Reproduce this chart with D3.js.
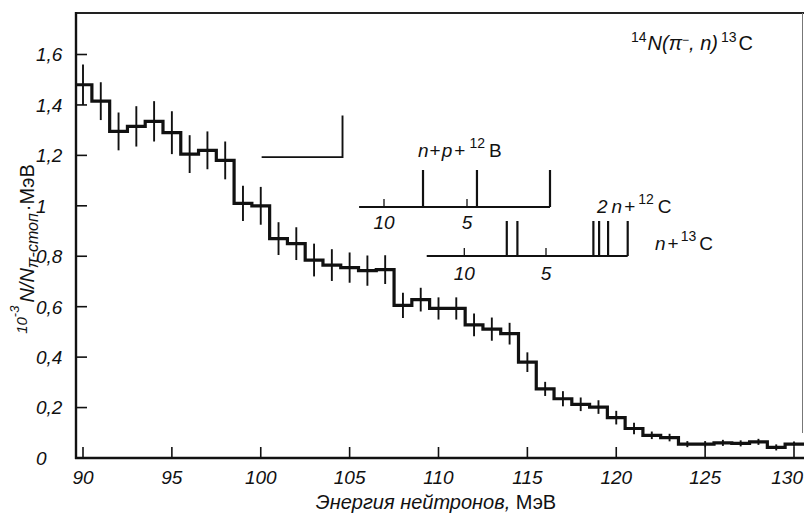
<!DOCTYPE html>
<html><head><meta charset="utf-8">
<script src="https://cdn.jsdelivr.net/npm/d3@7"></script>
<style>
html,body{margin:0;padding:0;background:#fff;}
svg{display:block;}
text{font-family:"Liberation Sans",Arial,sans-serif;fill:#111;}
</style></head>
<body>
<script>
// ---- data ----
const binCenters = [90,91,92,93,94,95,96,97,98,99,100,101,102,103,104,105,106,107,108,109,110,111,112,113,114,115,116,117,118,119,120,121,122,123,124,125,126,127,128,129,130];
const counts = [1.48,1.415,1.295,1.315,1.335,1.29,1.205,1.22,1.18,1.01,1.0,0.87,0.85,0.785,0.765,0.755,0.743,0.747,0.605,0.628,0.593,0.593,0.528,0.511,0.493,0.38,0.274,0.235,0.213,0.202,0.16,0.117,0.09,0.081,0.055,0.055,0.06,0.058,0.064,0.042,0.055];
const errors = [0.08,0.075,0.075,0.08,0.08,0.085,0.075,0.075,0.075,0.07,0.075,0.065,0.065,0.065,0.063,0.06,0.06,0.057,0.05,0.047,0.044,0.044,0.045,0.046,0.043,0.039,0.028,0.03,0.027,0.027,0.027,0.023,0.015,0.015,0.012,0.012,0.012,0.012,0.012,0.012,0.01];
const xTicks = [90,95,100,105,110,115,120,125,130];
const yTicks = [0,0.2,0.4,0.6,0.8,1,1.2,1.4,1.6];
const yTickLabels = ["0","0,2","0,4","0,6","0,8","1","1,2","1,4","1,6"];
// resolution marker (MeV, value)
const resolutionX = [100.05, 104.6];
const resolutionY = [1.193, 1.358];
// threshold spectra (excitation energies, MeV)
const spec1Lines = [7.65, 4.4, 0];
const spec2Lines = [7.4, 6.75, 2.1, 1.75, 1.2, 0];
const specTicks = [10, 5];
const spec1Range = [11.5, 0];
const spec2Range = [12.3, 0];

// ---- layout ----
const W = 804, H = 513;
const svg = d3.select("body").append("svg").attr("width", W).attr("height", H);
const x = d3.scaleLinear().domain([90,130]).range([83,794]);
const y = d3.scaleLinear().domain([0,1.6]).range([458,54.5]);
const axL = 76, axR = 804, axB = 458, axT = 13;

// frame
svg.append("line").attr("x1",axL-1).attr("x2",axR).attr("y1",axT).attr("y2",axT).attr("stroke","#222").attr("stroke-width",2);
svg.append("line").attr("x1",802.5).attr("x2",802.5).attr("y1",axT).attr("y2",433).attr("stroke","#777").attr("stroke-width",1);
svg.append("line").attr("x1",axL).attr("x2",axL).attr("y1",axT-1).attr("y2",axB+1).attr("stroke","#111").attr("stroke-width",2.4);
svg.append("line").attr("x1",axL-1).attr("x2",axR).attr("y1",axB).attr("y2",axB).attr("stroke","#111").attr("stroke-width",2.4);

// y ticks
yTicks.forEach((t,i)=>{
  svg.append("line").attr("x1",axL).attr("x2",axL+11).attr("y1",y(t)).attr("y2",y(t)).attr("stroke","#111").attr("stroke-width",1.6);
  svg.append("text").attr("x",36).attr("y",y(t)).attr("dy","0.36em")
    .attr("font-size",19).attr("font-style","italic").text(yTickLabels[i]);
});
// x ticks
xTicks.forEach((t,i)=>{
  svg.append("line").attr("x1",x(t)).attr("x2",x(t)).attr("y1",axB).attr("y2",axB-11).attr("stroke","#111").attr("stroke-width",1.6);
  const last = i===xTicks.length-1;
  svg.append("text").attr("x",last ? 803 : x(t)).attr("y",484).attr("text-anchor",last ? "end" : "middle")
    .attr("font-size",19).attr("font-style","italic").text(t);
});

// histogram
const xMin = x.invert(axL+1), xMax = x.invert(axR);
const pts = binCenters.map((c,i)=>[i===0? xMin : c-0.5, counts[i]]);
pts.push([xMax, counts[counts.length-1]]);
const line = d3.line().x(d=>x(d[0])).y(d=>y(d[1])).curve(d3.curveStepAfter);
svg.append("path").attr("d",line(pts)).attr("fill","none").attr("stroke","#111").attr("stroke-width",3.2).attr("stroke-linejoin","miter");
// error bars
binCenters.forEach((c,i)=>{
  svg.append("line").attr("x1",x(c)).attr("x2",x(c)).attr("y1",y(counts[i]-errors[i])).attr("y2",y(counts[i]+errors[i]))
    .attr("stroke","#111").attr("stroke-width",1.9);
});

// resolution marker
svg.append("path").attr("d",d3.line()([[x(resolutionX[0]),y(resolutionY[0])],[x(resolutionX[1]),y(resolutionY[0])],[x(resolutionX[1]),y(resolutionY[1])]]))
  .attr("fill","none").attr("stroke","#111").attr("stroke-width",1.9);

// threshold spectra
function spectrum(lines, range, scaleRange, yBase, yTop, labelY){
  const s = d3.scaleLinear().domain([10,0]).range(scaleRange);
  const g = svg.append("g");
  g.append("line").attr("x1",s(range[0])).attr("x2",s(range[1])).attr("y1",yBase).attr("y2",yBase).attr("stroke","#111").attr("stroke-width",2);
  specTicks.forEach(t=>{
    g.append("line").attr("x1",s(t)).attr("x2",s(t)).attr("y1",yBase).attr("y2",yBase-8).attr("stroke","#111").attr("stroke-width",1.3);
    g.append("text").attr("x",s(t)).attr("y",labelY).attr("text-anchor","middle").attr("font-size",19).attr("font-style","italic").text(t);
  });
  lines.forEach(e=>{
    g.append("line").attr("x1",s(e)).attr("x2",s(e)).attr("y1",yBase).attr("y2",yTop).attr("stroke","#111").attr("stroke-width",2.2);
  });
}
spectrum(spec1Lines, spec1Range, [384,550], 207, 170, 229);
spectrum(spec2Lines, spec2Range, [464.3,627.7], 256, 221, 280);

// labels with superscripts
function richText(xp, yp, parts, size){
  const t = svg.append("text").attr("x",xp).attr("y",yp).attr("font-size",size);
  let shift = 0;
  parts.forEach(p=>{
    const ts = t.append("tspan").text(p.t);
    if(p.italic) ts.attr("font-style","italic");
    const target = p.sup ? -p.sup : 0;
    ts.attr("dy", target - shift); shift = target;
    if(p.size) ts.attr("font-size", p.size);
    if(p.dx) ts.attr("dx", p.dx);
  });
  return t;
}
richText(418,157,[{t:"n",italic:true},{t:"+",dx:1},{t:"p",italic:true,dx:1},{t:"+",dx:2},{t:"12",sup:9,size:14,dx:4},{t:"B",dx:4}],19);
richText(597,213,[{t:"2",italic:true},{t:"n",italic:true,dx:4},{t:"+",dx:2},{t:"12",sup:9,size:14,dx:3},{t:"C",dx:4}],19);
richText(655,250,[{t:"n",italic:true},{t:"+",dx:2},{t:"13",sup:9,size:14,dx:2},{t:"C",dx:3}],19);
richText(631,50,[{t:"14",sup:8,size:14},{t:"N(π",italic:true,dx:1},{t:"−",sup:6,size:12},{t:", n)",italic:true},{t:"13",sup:8,size:14,dx:3},{t:"C",dx:2}],20);

// axis titles
const xl = svg.append("text").attr("x",436).attr("y",509).attr("text-anchor","middle").attr("font-size",20);
xl.append("tspan").attr("font-style","italic").text("Энергия нейтронов,");
xl.append("tspan").text(" МэВ");

const yl = svg.append("text").attr("transform","translate(34,249) rotate(-90)").attr("text-anchor","middle").attr("font-size",20);
yl.append("tspan").attr("font-style","italic").attr("font-size",15).attr("dy",-7).text("10");
yl.append("tspan").attr("font-style","italic").attr("font-size",13).attr("dy",-8).text("-3");
yl.append("tspan").attr("font-style","italic").attr("dy",15).attr("dx",3).text("N/N");
yl.append("tspan").attr("font-style","italic").attr("font-size",16).attr("dy",4).text("π-стоп");
yl.append("tspan").attr("dy",-4).attr("dx",2).text("·МэВ");
</script>
</body></html>
